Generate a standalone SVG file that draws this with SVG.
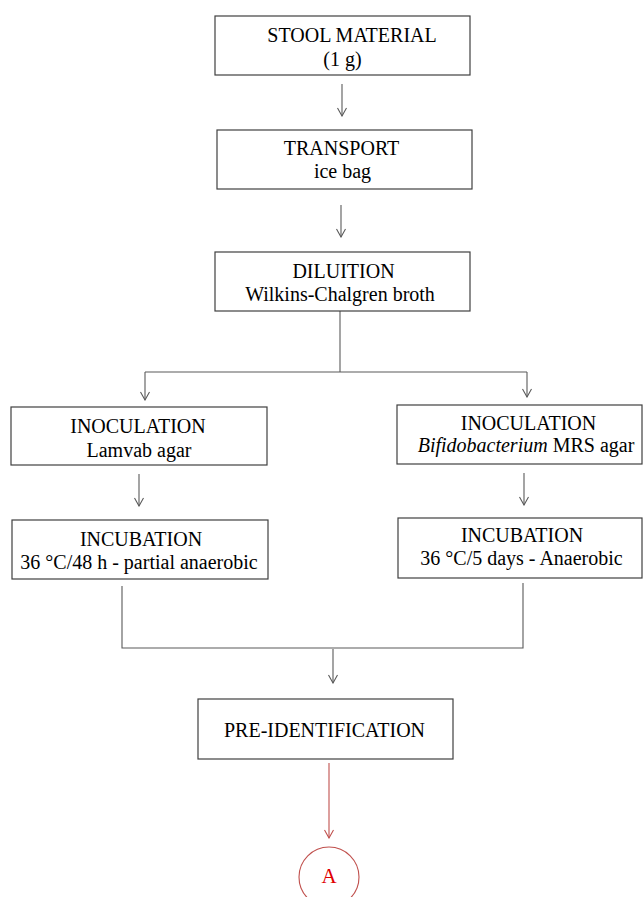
<svg xmlns="http://www.w3.org/2000/svg" width="643" height="897" viewBox="0 0 643 897">
<defs>
<style>
.box{fill:#fff;stroke:#404040;stroke-width:1.2}
.t{font-family:"Liberation Serif","Times New Roman",serif;font-size:20px;fill:#000;text-anchor:middle}
.ln{fill:none;stroke:#5a5a5a;stroke-width:1.1}
.red{fill:none;stroke:#c0504d;stroke-width:1.1}
</style>
<marker id="ah" viewBox="-9 -6 10 12" markerWidth="10" markerHeight="12" refX="0" refY="0" orient="auto" markerUnits="userSpaceOnUse">
<path d="M-8,-4.5 L0,0 L-8,4.5" fill="none" stroke="#5a5a5a" stroke-width="1.1"/>
</marker>
<marker id="ahr" viewBox="-9 -6 10 12" markerWidth="10" markerHeight="12" refX="0" refY="0" orient="auto" markerUnits="userSpaceOnUse">
<path d="M-8,-4.5 L0,0 L-8,4.5" fill="none" stroke="#c0504d" stroke-width="1.1"/>
</marker>
</defs>
<rect width="643" height="897" fill="#fff"/>
<g id="connectors">
<path class="ln" d="M342,84 V116" marker-end="url(#ah)"/>
<path class="ln" d="M341,205 V237" marker-end="url(#ah)"/>
<path class="ln" d="M340,311 V372"/>
<path class="ln" d="M145,372 H527"/>
<path class="ln" d="M145,372 V400" marker-end="url(#ah)"/>
<path class="ln" d="M527,372 V397" marker-end="url(#ah)"/>
<path class="ln" d="M139,474 V506" marker-end="url(#ah)"/>
<path class="ln" d="M524,473 V505" marker-end="url(#ah)"/>
<path class="ln" d="M122,586 V648 H523 V583"/>
<path class="ln" d="M333,649 V683" marker-end="url(#ah)"/>
<path class="red" d="M329,763 V838" marker-end="url(#ahr)"/>
</g>
<g id="stool">
<rect class="box" x="215" y="16" width="255" height="59"/>
<text class="t" x="352" y="42">STOOL MATERIAL</text>
<text class="t" x="342.5" y="66">(1 g)</text>
</g>
<g id="transport">
<rect class="box" x="217" y="130" width="255" height="59"/>
<text class="t" x="341.5" y="155">TRANSPORT</text>
<text class="t" x="342.5" y="178">ice bag</text>
</g>
<g id="dilution">
<rect class="box" x="215" y="252" width="255" height="59"/>
<text class="t" x="343.5" y="278">DILUITION</text>
<text class="t" x="340" y="301">Wilkins-Chalgren broth</text>
</g>
<g id="inoc-left">
<rect class="box" x="11" y="407" width="256" height="58"/>
<text class="t" x="138" y="433">INOCULATION</text>
<text class="t" x="139" y="457">Lamvab agar</text>
</g>
<g id="incub-left">
<rect class="box" x="12" y="520" width="256" height="59"/>
<text class="t" x="141" y="546">INCUBATION</text>
<text class="t" x="139" y="569">36 °C/48 h - partial anaerobic</text>
</g>
<g id="inoc-right">
<rect class="box" x="397" y="405" width="245" height="59"/>
<text class="t" x="528.5" y="430">INOCULATION</text>
<text class="t" x="526" y="452"><tspan font-style="italic">Bifidobacterium</tspan> MRS agar</text>
</g>
<g id="incub-right">
<rect class="box" x="398" y="518" width="244" height="60"/>
<text class="t" x="522" y="542">INCUBATION</text>
<text class="t" x="521.5" y="565">36 °C/5 days - Anaerobic</text>
</g>
<g id="preid">
<rect class="box" x="198" y="699" width="255" height="60"/>
<text class="t" x="324.5" y="737">PRE-IDENTIFICATION</text>
</g>
<g id="A">
<ellipse cx="329" cy="877" rx="30" ry="30" fill="#fff" stroke="#c0504d" stroke-width="1.1"/>
<text class="t" x="329" y="883" style="fill:#e00000;font-size:21px">A</text>
</g>
</svg>
